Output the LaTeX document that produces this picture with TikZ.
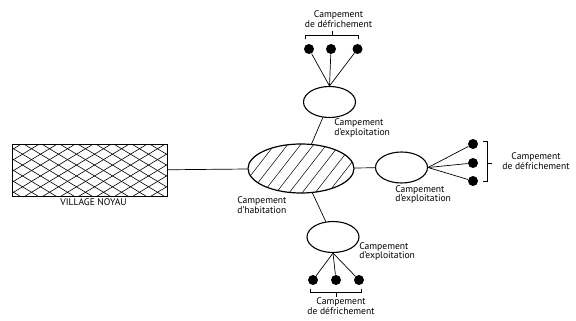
\documentclass[tikz,border=0pt]{standalone}
\usepackage{fontspec}
\setmainfont{PT Sans}
\usepackage{tikz}
\usetikzlibrary{shapes.geometric}

\tikzset{villagehatch/.style={path picture={
  \foreach \i in {-96,-78,...,162}{
    \draw[line width=.6pt] ([xshift=\i pt]path picture bounding box.south west) -- ++(96,-58);
    \draw[line width=.6pt] ([xshift=\i pt]path picture bounding box.north west) -- ++(96,58);
  }
}}}
\tikzset{habhatch/.style={path picture={
  \foreach \i in {-50,-37,...,110}{
    \draw[line width=.5pt] ([xshift=\i pt]path picture bounding box.south west) -- ++(42,-54);
  }
}}}
\tikzset{camp/.style={ellipse, draw, line width=1.1pt, inner sep=0pt,
  minimum width=52pt, minimum height=31pt}}
\tikzset{dot/.style={circle, fill=black, inner sep=0pt, minimum size=10pt}}
\tikzset{lbl/.style={inner sep=0pt, font=\fontsize{9.6}{9.8}\selectfont}}

\begin{document}
\begin{tikzpicture}[x=1pt, y=-1pt, line width=.7pt]
\useasboundingbox (0,0) rectangle (576,321);

\node[rectangle, draw, line width=1.2pt, minimum width=155pt, minimum height=52pt,
villagehatch] (village) at (90,170.5) {};
\node[lbl] (vlbl) at (93.5,202.5) {VILLAGE NOYAU};

\node[ellipse, draw, line width=1.2pt, inner sep=0pt, minimum width=106pt,
minimum height=49pt, habhatch] (hab) at (301,168.5) {};
\node[lbl, align=left, anchor=west] (hablbl) at (237,205) {Campement\\d'habitation};

\node[camp] (te) at (329.5,102) {};
\node[camp] (re) at (401.5,167.5) {};
\node[camp] (be) at (333,237) {};

\node[lbl, align=left, anchor=west] (telbl) at (334,128) {Campement\\d'exploitation};
\node[lbl, align=left, anchor=west] (relbl) at (395,194.5) {Campement\\d'exploitation};
\node[lbl, align=left, anchor=west] (belbl) at (359,251.5) {Campement\\d'exploitation};

% campements de defrichement
\node[dot] (t1) at (309,49) {};
\node[dot] (t2) at (331,49) {};
\node[dot] (t3) at (357.5,49) {};
\node[dot] (r1) at (473,144) {};
\node[dot] (r2) at (473,163) {};
\node[dot] (r3) at (473,181) {};
\node[dot] (b1) at (313,280) {};
\node[dot] (b2) at (336,280) {};
\node[dot] (b3) at (359,280) {};

\node[lbl, align=center] (tdlbl) at (338.5,19.5) {Campement\\de défrichement};
\node[lbl, align=center] (rdlbl) at (536,161) {Campement\\de défrichement};
\node[lbl, align=center] (bdlbl) at (341,306) {Campement\\de défrichement};

\draw [] (village) -- (hab);
\draw [] (hab) -- (te);
\draw [] (hab) -- (re);
\draw [] (hab) -- (be);

\draw [] (t1) -- (te.north);
\draw [] (t2) -- (te.north);
\draw [] (t3) -- (te.north);
\draw [] (r1) -- (re.east);
\draw [] (r2) -- (re.east);
\draw [] (r3) -- (re.east);
\draw [] (b1) -- (be.south);
\draw [] (b2) -- (be.south);
\draw [] (b3) -- (be.south);

% accolades
\draw [] (305.5,39) -- (305.5,35) -- (358,35) -- (358,39);
\draw [] (332,35) -- (332,31);
\draw [] (483,141.5) -- (487,141.5) -- (487,181.5) -- (483,181.5);
\draw [] (487,163) -- (491.5,163);
\draw [] (310.5,289) -- (310.5,292.5) -- (361.5,292.5) -- (361.5,289);
\draw [] (336,292.5) -- (336,296.5);

\end{tikzpicture}
\end{document}
